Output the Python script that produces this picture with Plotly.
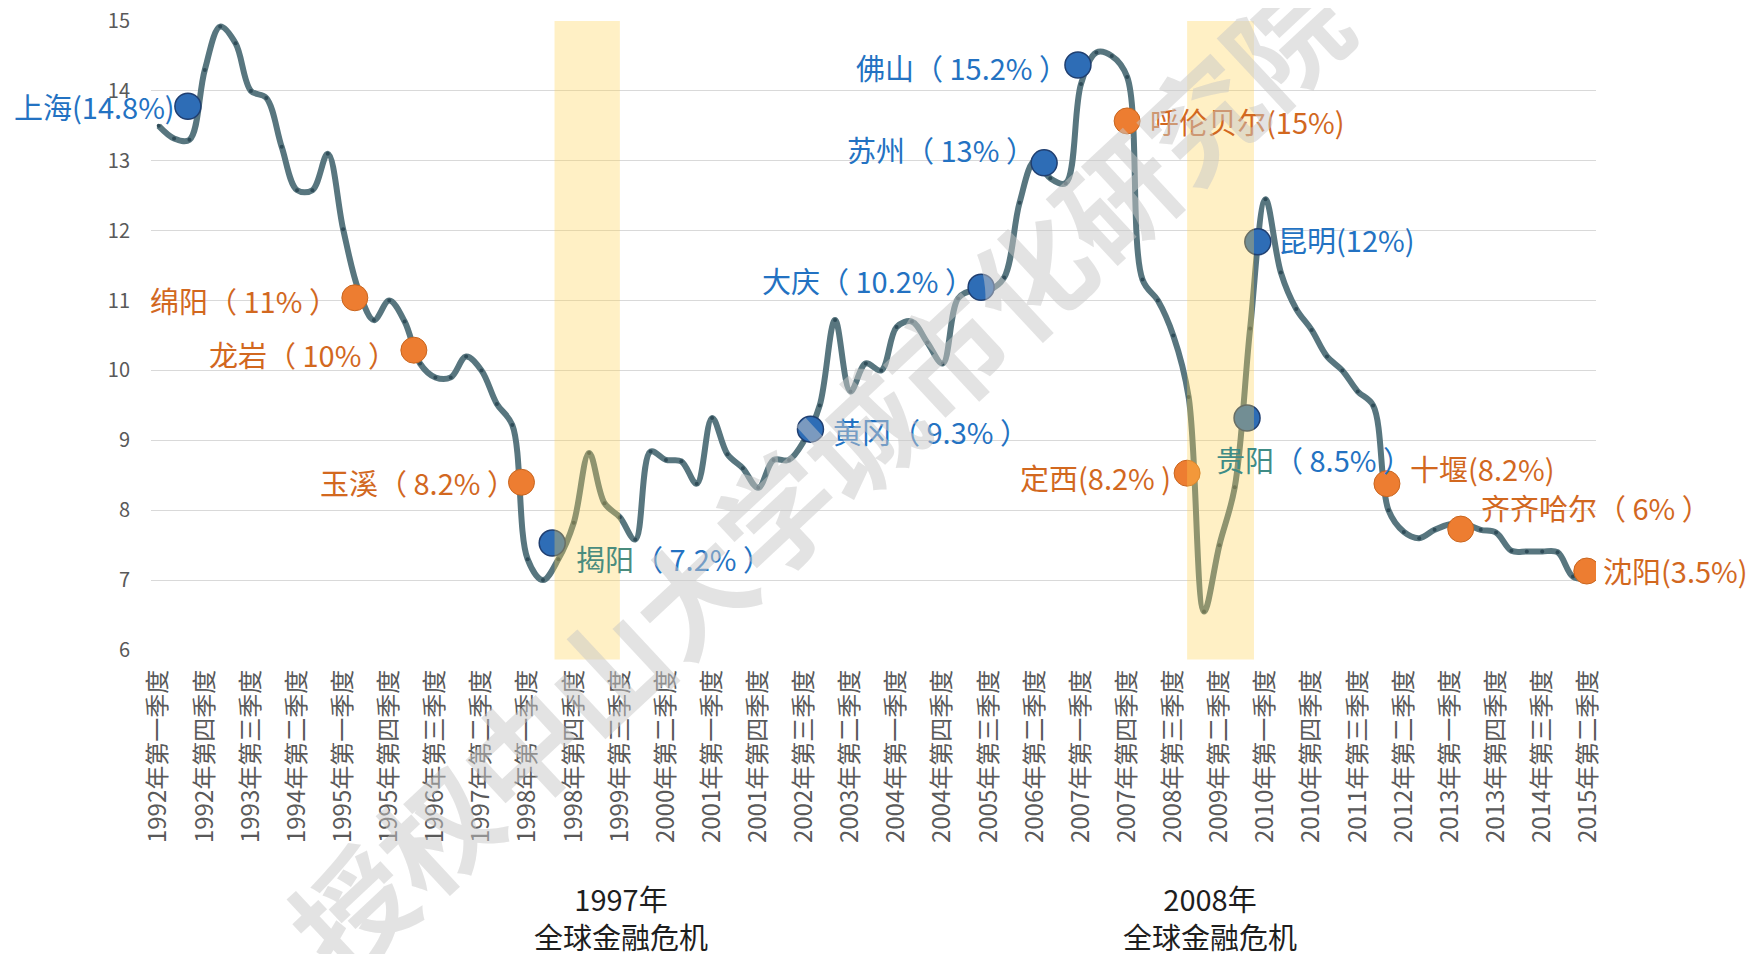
import plotly.graph_objects as go

# ---------------- data ----------------
years_q = [(y, q) for y in range(1992, 2016) for q in range(1, 5)][:94]
qnames = {1: "一", 2: "二", 3: "三", 4: "四"}
quarter_labels = [f"{y}年第{qnames[q]}季度" for y, q in years_q]

growth = [
    13.5, 13.32, 13.3, 14.3, 14.92, 14.68, 14.0, 13.9, 13.2, 12.58,
    12.58, 13.1, 12.02, 11.15, 10.72, 11.0, 10.7, 10.1, 9.9, 9.9,
    10.2, 10.0, 9.52, 9.22, 7.3, 7.0, 7.3, 7.82, 8.82, 8.1,
    7.9, 7.58, 8.84, 8.72, 8.7, 8.38, 9.32, 8.8, 8.6, 8.32,
    8.72, 8.72, 9.0, 9.5, 10.72, 9.7, 10.1, 10.0, 10.62, 10.7,
    10.4, 10.1, 11.03, 11.15, 11.15, 11.33, 12.4, 13.0, 12.75, 12.68,
    14.1, 14.55, 14.5, 14.2, 11.3, 11.0, 10.5, 9.62, 6.55, 7.5,
    8.33, 10.6, 12.45, 11.4, 10.88, 10.58, 10.2, 10.0, 9.7, 9.5,
    8.0, 7.69, 7.6, 7.72, 7.8, 7.8, 7.72, 7.68, 7.42, 7.41,
    7.41, 7.4, 7.05, 7.02,
]
x_idx = list(range(len(growth)))
tick_idx = x_idx[::3]
tick_text = [quarter_labels[i] for i in tick_idx]

# highlighted cities (position along the time axis, value, label)
blue_x = [1.9, 25.6, 42.4, 53.5, 57.6, 59.8, 71.5, 70.8]
blue_y = [13.78, 7.53, 9.16, 11.19, 12.97, 14.37, 11.84, 9.32]
blue_text = ["上海(14.8%)", "<span style='color:#4A8C7E'>揭阳</span>（ 7.2% ）", "黄冈（ 9.3% ）",
             "大庆（ 10.2% ）", "苏州（ 13% ）", "佛山（ 15.2% ）", "昆明(12%)",
             "<span style='color:#3F8C86'>贵阳</span>（ 8.5% ）"]

orange_x = [12.76, 16.6, 23.6, 63.0, 66.9, 79.9, 84.7, 92.9]
orange_y = [11.04, 10.29, 8.40, 13.57, 8.53, 8.38, 7.73, 7.13]
orange_text = ["绵阳（ 11% ）", "龙岩（ 10% ）", "玉溪（ 8.2% ）", "呼伦贝尔(15%)",
               "定西(8.2% )", "十堰(8.2%)", "齐齐哈尔（ 6% ）", "沈阳(3.5%)"]

crisis_start = [25.75, 66.9]
crisis_end = [30.0, 71.25]
crisis_label = ["1997年<br>全球金融危机", "2008年<br>全球金融危机"]
crisis_label_x = [30.1, 68.4]

# label placement: (xanchor, xshift, yshift)
blue_pos = [("right", -11, 0), ("left", 22, -15), ("left", 21, -2), ("right", -5, 7),
            ("right", -7, 14), ("right", -8, -2), ("left", 18, 3), ("left", -33, -41)]
orange_pos = [("right", -15, -2), ("right", -15, -4), ("right", -3, 0), ("left", 21, 0),
              ("right", -14, -4), ("left", 21, 16), ("left", 18, 22), ("left", 14, 1)]

FONT = "Noto Sans CJK SC"
BLUE_TXT = "#2372C2"
ORANGE_TXT = "#D2681F"

# page offset of the figure inside the html body (default body margin)
PAGE_OFF = 8

fig = go.Figure()
fig.add_trace(go.Scatter(
    x=x_idx, y=growth, mode="lines+markers",
    line=dict(color="#58767F", width=6, shape="spline", smoothing=1),
    marker=dict(size=4, color="#2F4C58"),
    hoverinfo="skip", showlegend=False))
fig.add_trace(go.Scatter(
    x=blue_x, y=blue_y, mode="markers",
    marker=dict(size=26, color="#2E6DB6", line=dict(color="#203F70", width=1.5)),
    showlegend=False))
fig.add_trace(go.Scatter(
    x=orange_x, y=orange_y, mode="markers",
    marker=dict(size=26, color="#ED7D31", line=dict(color="#C9651E", width=1)),
    showlegend=False))

# crisis bands (overlay above the line)
for s, e in zip(crisis_start, crisis_end):
    fig.add_shape(type="rect", xref="x", yref="paper", x0=s, x1=e, y0=-0.015, y1=1,
                  fillcolor="rgba(255,210,80,0.33)", line=dict(width=0), layer="above")

annotations = []
for xs, ys, texts, pos, col in [(blue_x, blue_y, blue_text, blue_pos, BLUE_TXT),
                                (orange_x, orange_y, orange_text, orange_pos, ORANGE_TXT)]:
    for xv, yv, t, (anc, dx, dy) in zip(xs, ys, texts, pos):
        annotations.append(dict(x=xv, y=yv, xref="x", yref="y", text=t, showarrow=False,
                                xanchor=anc, yanchor="middle", xshift=dx, yshift=dy,
                                font=dict(family=FONT, size=29, color=col)))

for lx, lt in zip(crisis_label_x, crisis_label):
    annotations.append(dict(x=lx, y=-0.425, xref="x", yref="paper", text=lt, showarrow=False,
                            xanchor="center", yanchor="middle", align="center",
                            font=dict(family=FONT, size=29, color="#1E1E1E")))

# watermark
annotations.append(dict(x=0.46, y=0.285, xref="paper", yref="paper",
                        text="<b>授权中山大学城市化研究院</b>", showarrow=False, textangle=-43,
                        xanchor="center", yanchor="middle",
                        font=dict(family=FONT, size=116, color="rgba(200,200,200,0.5)")))

fig.update_layout(
    width=1756, height=954,
    margin=dict(l=151 - PAGE_OFF, r=160 + PAGE_OFF, t=21 - PAGE_OFF, b=304 + PAGE_OFF),
    paper_bgcolor="white", plot_bgcolor="white",
    font=dict(family=FONT, color="#595959"),
    annotations=annotations,
    xaxis=dict(range=[-0.5, 93.5], tickmode="array", tickvals=tick_idx, ticktext=tick_text,
               tickangle=-90, showgrid=False, zeroline=False, showline=False, ticks="",
               automargin=False, ticklabelstandoff=14, ticklabeloverflow="allow",
               tickfont=dict(family=FONT, size=24, color="#595959")),
    yaxis=dict(range=[6, 15], dtick=1, showgrid=True, gridcolor="#D9D9D9", gridwidth=1,
               zeroline=False, showline=False, ticks="", automargin=False,
               ticklabelstandoff=20, ticklabeloverflow="allow",
               tickfont=dict(family=FONT, size=20, color="#595959")),
)

fig.write_html("out.html")
